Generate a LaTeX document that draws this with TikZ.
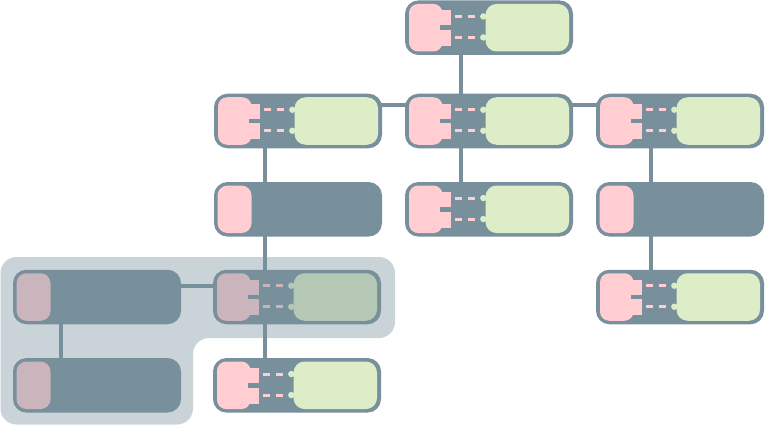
\documentclass[tikz,border=0pt]{standalone}
\usetikzlibrary{calc}
\definecolor{greyc}{HTML}{78909C}
\definecolor{pinkc}{HTML}{FFCDD2}
\definecolor{greenc}{HTML}{DCEDC8}
\tikzset{
  box/.style={rectangle, rounded corners=12pt, minimum width=165pt, minimum height=51.5pt,
    inner sep=0pt, outer sep=0pt, line width=3pt, draw=greyc, fill=greyc},
  conn/.style={line width=4pt, draw=greyc},
  dashline/.style={line width=3pt, draw=pinkc, dash pattern=on 7pt off 6pt},
  region/.style={fill=greyc, fill opacity=0.39, rounded corners=16pt}
}
\newcommand\linkparts[1]{%
  \begin{scope}[shift={(#1.north west)}]
    \fill[pinkc, rounded corners=9pt] (2.5,2) rectangle (36,49.5);
    \fill[pinkc] (33,8.5) rectangle (44.5,44);
    \fill[greyc] (33,23.3) rectangle (45,28.2);
    \draw[dashline] (48.5,14.5) -- (68.5,14.5);
    \draw[dashline] (48.5,35.5) -- (68.5,35.5);
    \fill[greenc] (76.8,14.5) circle[radius=3.2pt];
    \fill[greenc] (76.8,35.5) circle[radius=3.2pt];
    \fill[greenc, rounded corners=11pt] (79,2) rectangle (162.5,49.5);
  \end{scope}}
\newcommand\plainparts[1]{%
  \begin{scope}[shift={(#1.north west)}]
    \fill[pinkc, rounded corners=10pt] (2,2) rectangle (36,49.5);
  \end{scope}}
\begin{document}
\begin{tikzpicture}[x=1pt,y=-1pt]
\useasboundingbox (0,0) rectangle (765,425);
\fill[white] (0,0) rectangle (765,425);
% nodes
\node[box] (a)  at (489,27.7) {};
\node[box] (l2) at (298,121) {};
\node[box] (m2) at (489,121) {};
\node[box] (r2) at (680,121) {};
\node[box] (l3) at (298,209.3) {};
\node[box] (m3) at (489,209.3) {};
\node[box] (r3) at (680,209.3) {};
\node[box] (l4) at (97,297) {};
\node[box] (m4) at (297,297) {};
\node[box] (r4) at (680,297) {};
\node[box] (l5) at (97,385.3) {};
\node[box] (m5) at (297,385.3) {};
% connectors
\draw[conn] ($(a.south west)+(54,0)$) -- ($(m2.north west)+(54,0)$);
\draw[conn] ($(m2.south west)+(54,0)$) -- ($(m3.north west)+(54,0)$);
\draw[conn] ($(l2.north east)+(0,10)$) -- ($(m2.north west)+(0,10)$);
\draw[conn] ($(m2.north east)+(0,10)$) -- ($(r2.north west)+(0,10)$);
\draw[conn] ($(l2.south west)+(49,0)$) -- ($(l3.north west)+(49,0)$);
\draw[conn] ($(l3.south west)+(49,0)$) -- ($(m4.north west)+(50,0)$);
\draw[conn] ($(m4.south west)+(50.5,0)$) -- ($(m5.north west)+(50.5,0)$);
\draw[conn] ($(l4.north east)+(0,15)$) -- ($(m4.north west)+(0,15)$);
\draw[conn] ($(l4.south west)+(46,0)$) -- ($(l5.north west)+(46,0)$);
\draw[conn] ($(r2.south west)+(53,0)$) -- ($(r3.north west)+(53,0)$);
\draw[conn] ($(r3.south west)+(53,0)$) -- ($(r4.north west)+(53,0)$);
% inner parts
\linkparts{a}
\linkparts{l2}
\linkparts{m2}
\linkparts{r2}
\plainparts{l3}
\linkparts{m3}
\plainparts{r3}
\plainparts{l4}
\linkparts{m4}
\linkparts{r4}
\plainparts{l5}
\linkparts{m5}
% shaded group
\path[region] (0.5,257) -- (395,257) -- (395,338) -- (193,338) -- (193,424.5) -- (0.5,424.5) -- cycle;
\end{tikzpicture}
\end{document}
